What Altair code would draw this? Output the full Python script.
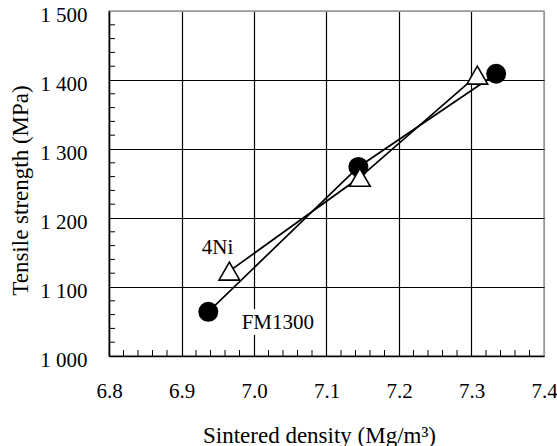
import altair as alt
import pandas as pd

# ---- data ----
density_fm = [6.937, 7.144, 7.334]
strength_fm = [1064, 1274, 1409]
density_ni = [6.966, 7.146, 7.308]
strength_ni = [1123, 1259, 1407]

x_ticks = [6.8, 6.9, 7.0, 7.1, 7.2, 7.3, 7.4]
y_ticks = [1000, 1100, 1200, 1300, 1400, 1500]
x_minor = [6.82, 6.84, 6.86, 6.88, 6.92, 6.94, 6.96, 6.98,
           7.02, 7.04, 7.06, 7.08, 7.12, 7.14, 7.16, 7.18,
           7.22, 7.24, 7.26, 7.28, 7.32, 7.34, 7.36, 7.38]
y_minor = [1020, 1040, 1060, 1080, 1120, 1140, 1160, 1180,
           1220, 1240, 1260, 1280, 1320, 1340, 1360, 1380,
           1420, 1440, 1460, 1480]

label_text = ["4Ni", "FM1300"]
label_x = [6.928, 6.983]
label_y = [1148, 1039]

# ---- tables ----
lines_df = pd.DataFrame({
    "density": density_fm + density_ni,
    "strength": strength_fm + strength_ni,
    "series": ["FM1300"] * len(density_fm) + ["4Ni"] * len(density_ni),
})
fm_df = pd.DataFrame({"density": density_fm, "strength": strength_fm})
ni_df = pd.DataFrame({"density": density_ni, "strength": strength_ni})
lab_df = pd.DataFrame({"text": label_text, "density": label_x, "strength": label_y})
xm_df = pd.DataFrame({"density": x_minor})
ym_df = pd.DataFrame({"strength": y_minor})

W, H = 435, 345
FONT = "Liberation Serif"

xscale = alt.Scale(domain=[6.8, 7.4], nice=False, zero=False)
yscale = alt.Scale(domain=[1000, 1500], nice=False, zero=False)

x_axis = alt.Axis(
    values=x_ticks, format=".1f", title="Sintered density (Mg/m³)",
    grid=True,
    gridColor={"condition": {"test": "datum.value > 7.39", "value": "#999999"}, "value": "black"},
    gridWidth=1.2, ticks=False, domainColor="black", domainWidth=1.5,
    labelFont=FONT, labelFontSize=21, labelColor="black", labelPadding=24,
    labelBaseline="top", labelFlush=False, labelOverlap=False,
    titleFont=FONT, titleFontSize=23, titleFontWeight="normal", titleColor="black",
    titleX=210, titleY=86, titleAlign="center", titleBaseline="alphabetic",
)
y_axis = alt.Axis(
    values=y_ticks, labelExpr="replace(format(datum.value, ','), ',', ' ')",
    title="Tensile strength (MPa)",
    grid=True,
    gridColor={"condition": {"test": "datum.value > 1499", "value": "#999999"}, "value": "black"},
    gridWidth=1.2, ticks=False, domainColor="black", domainWidth=1.5,
    labelFont=FONT, labelFontSize=21, labelColor="black", labelPadding=22,
    labelBaseline="middle", labelOffset=4, labelFlush=False, labelOverlap=False,
    titleFont=FONT, titleFontSize=23, titleFontWeight="normal", titleColor="black",
    titleX=-89, titleY=179, titleAngle=270, titleAlign="center", titleBaseline="middle",
)

X = alt.X("density:Q", scale=xscale, axis=x_axis)
Y = alt.Y("strength:Q", scale=yscale, axis=y_axis)

lines = alt.Chart(lines_df).mark_line(color="black", strokeWidth=1.7).encode(
    x=X, y=Y, detail="series:N",
)

circles = alt.Chart(fm_df).mark_point(
    shape="circle", filled=True, color="black", size=400, opacity=1
).encode(x=X, y=Y)

triangles = alt.Chart(ni_df).mark_point(
    shape="triangle-up", filled=True, fill="white", stroke="black",
    strokeWidth=1.6, size=430, opacity=1
).encode(x=X, y=Y)

halo = alt.Chart(lab_df).transform_filter("datum.text == 'FM1300'").mark_text(
    font=FONT, fontSize=21, align="left", baseline="alphabetic",
    fill="white", stroke="white", strokeWidth=12,
).encode(x=X, y=Y, text="text:N")

labels = alt.Chart(lab_df).mark_text(
    font=FONT, fontSize=21, align="left", baseline="alphabetic", color="black",
).encode(x=X, y=Y, text="text:N")

x_minor_ticks = alt.Chart(xm_df).mark_rule(color="black", strokeWidth=1).encode(
    x=X, y=alt.value(H), y2=alt.value(H - 6),
)
y_minor_ticks = alt.Chart(ym_df).mark_rule(color="black", strokeWidth=1).encode(
    y=Y, x=alt.value(0), x2=alt.value(6),
)

chart = alt.layer(
    lines, halo, labels, x_minor_ticks, y_minor_ticks, circles, triangles
).properties(
    width=W, height=H,
    autosize=alt.AutoSizeParams(type="none"),
    padding={"left": 109, "top": 11, "right": 13, "bottom": 90},
    background="white",
).configure_view(
    stroke="#999999", strokeWidth=1.5,
)

chart.save("out.html", embed_options={"renderer": "svg", "actions": False})
